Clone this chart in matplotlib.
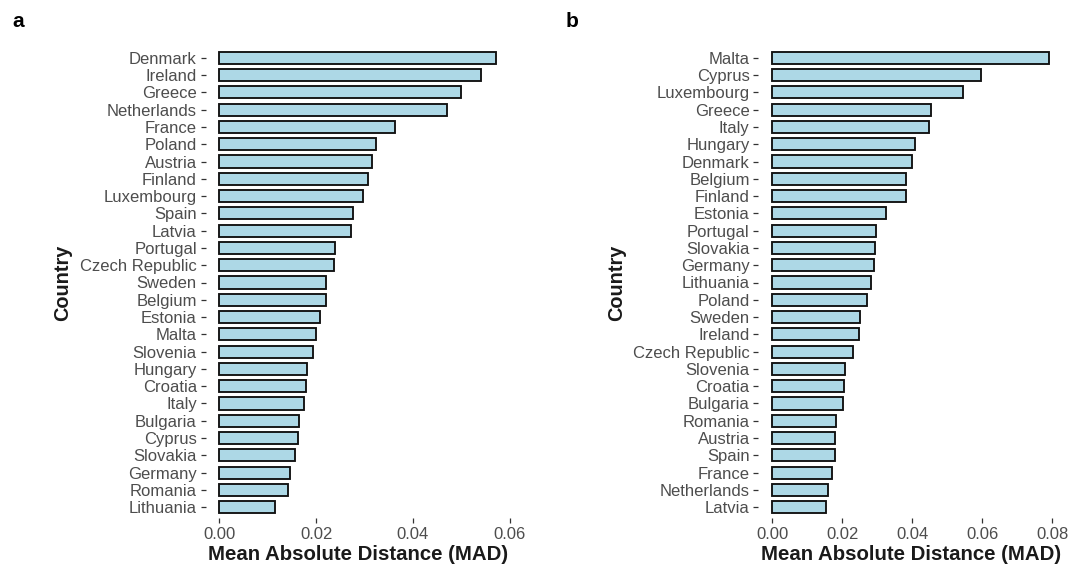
import matplotlib
matplotlib.use("Agg")
import matplotlib.pyplot as plt

plt.rcParams['font.family'] = ['Liberation Sans', 'DejaVu Sans']

countries_a = ["Denmark", "Ireland", "Greece", "Netherlands", "France", "Poland", "Austria",
               "Finland", "Luxembourg", "Spain", "Latvia", "Portugal", "Czech Republic", "Sweden",
               "Belgium", "Estonia", "Malta", "Slovenia", "Hungary", "Croatia", "Italy",
               "Bulgaria", "Cyprus", "Slovakia", "Germany", "Romania", "Lithuania"]
mad_a = [0.0572, 0.0541, 0.0500, 0.0471, 0.0364, 0.0324, 0.0316,
         0.0308, 0.0297, 0.0277, 0.0273, 0.0239, 0.0237, 0.0221,
         0.0220, 0.0209, 0.0199, 0.0193, 0.0182, 0.0179, 0.0176,
         0.0164, 0.0163, 0.0156, 0.0147, 0.0142, 0.0115]

countries_b = ["Malta", "Cyprus", "Luxembourg", "Greece", "Italy", "Hungary", "Denmark",
               "Belgium", "Finland", "Estonia", "Portugal", "Slovakia", "Germany", "Lithuania",
               "Poland", "Sweden", "Ireland", "Czech Republic", "Slovenia", "Croatia",
               "Bulgaria", "Romania", "Austria", "Spain", "France", "Netherlands", "Latvia"]
mad_b = [0.0791, 0.0595, 0.0545, 0.0453, 0.0447, 0.0407, 0.0400,
         0.0382, 0.0381, 0.0325, 0.0297, 0.0292, 0.0290, 0.0281,
         0.0271, 0.0250, 0.0249, 0.0231, 0.0209, 0.0205,
         0.0202, 0.0182, 0.0180, 0.0179, 0.0170, 0.0160, 0.0153]

ticks_a = [0.00, 0.02, 0.04, 0.06]
ticks_b = [0.00, 0.02, 0.04, 0.06, 0.08]

W, H = 1069, 568
fig = plt.figure(figsize=(W / 100, H / 100), dpi=100)


def px_axes(left, right, top, bottom):
    return fig.add_axes([left / W, 1 - bottom / H, (right - left) / W, (bottom - top) / H])


def panel(ax, cats, vals, ticks, ylab_x):
    n = len(cats)
    pos = list(range(n))
    ax.barh(pos, vals, height=0.7, color='#ADD8E6', edgecolor='#111111', linewidth=1.35)
    ax.set_ylim(n - 1 + 0.6, -0.6)
    vmax = max(vals)
    ax.set_xlim(-0.05 * vmax, 1.05 * vmax)
    ax.set_yticks(pos)
    ax.set_yticklabels(cats)
    ax.set_xticks(ticks)
    ax.set_xticklabels([f"{t:.2f}" for t in ticks])
    for s in ax.spines.values():
        s.set_visible(False)
    ax.tick_params(axis='both', colors='#333333', labelcolor='#4D4D4D', labelsize=12,
                   length=3.8, width=0.9)
    ax.tick_params(axis='y', pad=2.5)
    ax.tick_params(axis='x', pad=3.0)
    ax.set_xlabel("Mean Absolute Distance (MAD)", fontsize=14.7, fontweight='bold', color='#1a1a1a')
    ax.set_ylabel("Country", fontsize=14.3, fontweight='bold', color='#1a1a1a')
    ax.xaxis.label.set_va('center')
    ax.xaxis.set_label_coords(0.5, (517.5 - 555) / 470)
    ax.yaxis.label.set_va('center')
    ax.yaxis.set_label_coords(ylab_x, 0.5)


ax_a = px_axes(205.5, 509.9, 47.5, 517.5)
panel(ax_a, countries_a, mad_a, ticks_a, (63 - 205.5) / 304.4)
ax_b = px_axes(758.4, 1063.1, 47.5, 517.5)
panel(ax_b, countries_b, mad_b, ticks_b, (617 - 758.4) / 304.7)

fig.text(12 / W, 1 - 27 / H, "a", fontsize=15, fontweight='bold', va='baseline', ha='left')
fig.text(566 / W, 1 - 27 / H, "b", fontsize=15, fontweight='bold', va='baseline', ha='left')

fig.savefig("out.png", dpi=100)
